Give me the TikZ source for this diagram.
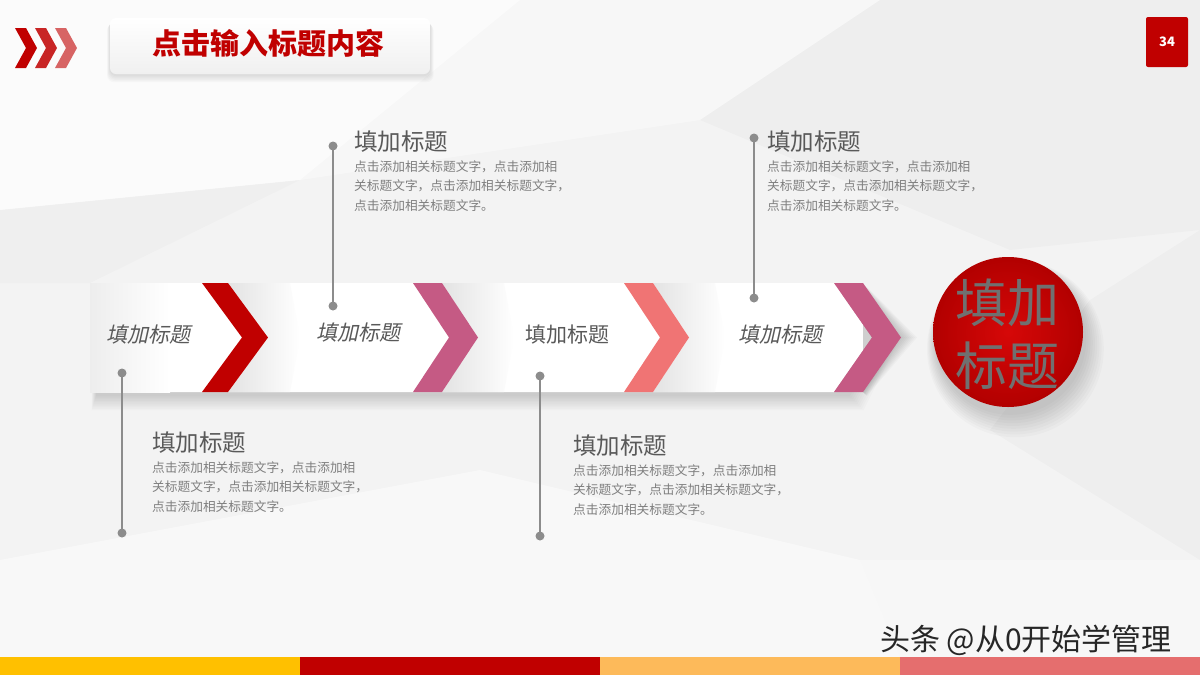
\documentclass[tikz,border=0pt]{standalone}
\usepackage{fontspec}
\setmainfont{Noto Sans CJK SC}
\newfontfamily\cjkit{Noto Sans CJK SC}[FakeSlant=0.22]
\definecolor{dred}{HTML}{C00000}
\definecolor{pinkc}{HTML}{C55A84}
\definecolor{salmon}{HTML}{F07474}
\definecolor{bandA}{HTML}{FFC000}
\definecolor{bandC}{HTML}{FDBA5A}
\definecolor{bandD}{HTML}{E56E6E}
\definecolor{txtgray}{HTML}{595959}
\definecolor{bodygray}{HTML}{7F7F7F}
\definecolor{linegray}{HTML}{8C8C8C}
\definecolor{ballgray}{HTML}{707070}
\definecolor{bg}{HTML}{F3F3F3}
\tikzset{
  dot/.style={circle,fill=linegray,inner sep=0pt,minimum size=9pt},
  conn/.style={linegray,line width=1.5pt},
  striplabel/.style={anchor=base,text=txtgray,inner sep=0pt,font=\fontsize{21}{21}\selectfont},
  blocktitle/.style={anchor=base west,text=txtgray,inner sep=0pt,font=\fontsize{23.5}{23.5}\selectfont},
  blockbody/.style={anchor=base west,text=bodygray,inner sep=0pt,align=left,font=\fontsize{12.7}{19.5}\selectfont},
}
\begin{document}
\begin{tikzpicture}[x=1pt,y=-1pt]
\useasboundingbox (0,0) rectangle (1200,675);
% background
\fill[bg] (0,0) rectangle (1200,675);
\fill[white,opacity=0.7] (0,0) -- (520,0) -- (300,180) -- (0,210) -- cycle;
\fill[white,opacity=0.4] (520,0) -- (880,0) -- (700,120) -- (300,180) -- cycle;
\fill[black,opacity=0.018] (880,0) -- (1200,0) -- (1200,230) -- (1010,250) -- (700,120) -- cycle;
\fill[white,opacity=0.45] (0,560) -- (480,470) -- (860,560) -- (900,657) -- (0,657) -- cycle;
\fill[black,opacity=0.02] (1090,300) -- (1200,230) -- (1200,560) -- (990,430) -- cycle;
\fill[white,opacity=0.4] (860,560) -- (1200,560) -- (1200,657) -- (900,657) -- cycle;
\fill[black,opacity=0.015] (0,210) -- (300,180) -- (90,283) -- (0,283) -- cycle;
% bottom bands
\fill[bandA] (0,657) rectangle (300,675);
\fill[dred] (300,657) rectangle (600,675);
\fill[bandC] (600,657) rectangle (900,675);
\fill[bandD] (900,657) rectangle (1200,675);
% top-left chevrons
\fill[dred] (15,28) -- (26,28) -- (37,48) -- (26,68) -- (15,68) -- (26,48) -- cycle;
\fill[dred,opacity=0.85] (35,28) -- (46,28) -- (57,48) -- (46,68) -- (35,68) -- (46,48) -- cycle;
\fill[dred,opacity=0.6] (55,28) -- (66,28) -- (77,48) -- (66,68) -- (55,68) -- (66,48) -- cycle;
% title box
\foreach \i in {1,...,6}{\fill[black,opacity=0.02,rounded corners=7pt] (110-\i*0.5,19+\i*0.8) rectangle (430+\i*0.6,75+\i*1.2);}
\shade[top color=white,bottom color=black!6,rounded corners=6pt] (110,18) rectangle (430,74);
\node[anchor=base,text=dred,inner sep=0pt,font=\fontsize{29}{29}\selectfont\bfseries] (title) at (268,54) {点击输入标题内容};
% page number
\node[fill=dred,minimum width=42pt,minimum height=50pt,rounded corners=2pt,inner sep=0pt,text=white,font=\fontsize{13}{13}\selectfont\bfseries] (page) at (1167,42) {34};
% strip shadow
\foreach \i in {0,...,9}{\fill[black,opacity=0.016] (96-\i*0.5,290+\i*0.4) -- (850+\i*0.5,290+\i*0.4) -- (885+\i*1.2,337+\i) -- (850+\i*1.5,396+\i*1.6) -- (96-\i*0.5,396+\i*1.6) -- cycle;}
% strip
\fill[white] (90,283) -- (834,283) -- (872,337.5) -- (834,392) -- (90,392) -- cycle;
\shade[left color=black!7,right color=white] (90,283) rectangle (170,392);
% chevron shadows on next segments
\shade[left color=black!11,right color=white] (228,283) -- (290,283) -- (300,337.5) -- (290,392) -- (228,392) -- (268,337.5) -- cycle;
\shade[left color=black!11,right color=white] (442,283) -- (504,283) -- (514,337.5) -- (504,392) -- (442,392) -- (478,337.5) -- cycle;
\shade[left color=black!11,right color=white] (653,283) -- (715,283) -- (725,337.5) -- (715,392) -- (653,392) -- (689,337.5) -- cycle;
\foreach \i in {1,...,8}{\fill[black,opacity=0.025] (863,287) -- (863+\i*0.5,287) -- (901+\i*2,337.5) -- (863+\i*0.5,392+\i*0.5) -- (863,392) -- cycle;}
% strip chevrons
\fill[dred] (202,283) -- (228,283) -- (268,337.5) -- (228,392) -- (202,392) -- (242,337.5) -- cycle;
\fill[pinkc] (413,283) -- (442,283) -- (478,337.5) -- (442,392) -- (413,392) -- (449,337.5) -- cycle;
\fill[salmon] (624,283) -- (653,283) -- (689,337.5) -- (653,392) -- (624,392) -- (660,337.5) -- cycle;
\fill[pinkc] (834,283) -- (863,283) -- (901,337.5) -- (863,392) -- (834,392) -- (872,337.5) -- cycle;
% strip labels
\node[striplabel,font=\cjkit\fontsize{21}{21}\selectfont] (s1) at (148,342) {填加标题};
\node[striplabel,font=\cjkit\fontsize{21}{21}\selectfont] (s2) at (358,340) {填加标题};
\node[striplabel] (s3) at (567,342) {填加标题};
\node[striplabel,font=\cjkit\fontsize{21}{21}\selectfont] (s4) at (780,342) {填加标题};
% circle
\foreach \i in {1,...,9}{\fill[black,opacity=0.018] (1010+\i*0.6,338+\i*1.2) circle (74+\i*1.6);}
\node[circle,minimum size=150pt,inner sep=0pt,shade,inner color={rgb,255:red,214;green,8;blue,8},outer color={rgb,255:red,178;green,0;blue,0}] (ball) at (1008,332) {};
\node[anchor=base,text=ballgray,inner sep=0pt,align=center,font=\fontsize{52}{63}\selectfont] (balltext) at (1007,385) {填加\\标题};
% connectors
\node[dot] (d1a) at (122,373) {};
\node[dot] (d1b) at (122,533) {};
\draw[conn] (d1a.center) -- (d1b.center);
\node[dot] (d2a) at (333,146) {};
\node[dot] (d2b) at (333,306) {};
\draw[conn] (d2a.center) -- (d2b.center);
\node[dot] (d3a) at (540,376) {};
\node[dot] (d3b) at (540,536) {};
\draw[conn] (d3a.center) -- (d3b.center);
\node[dot] (d4a) at (754,138) {};
\node[dot] (d4b) at (754,298) {};
\draw[conn] (d4a.center) -- (d4b.center);
% text blocks
\node[blocktitle] (t1) at (354,150) {填加标题};
\node[blockbody] (b1) at (354,210) {点击添加相关标题文字，点击添加相\\关标题文字，点击添加相关标题文字，\\点击添加相关标题文字。};
\node[blocktitle] (t2) at (767,150) {填加标题};
\node[blockbody] (b2) at (767,210) {点击添加相关标题文字，点击添加相\\关标题文字，点击添加相关标题文字，\\点击添加相关标题文字。};
\node[blocktitle] (t3) at (152,451) {填加标题};
\node[blockbody] (b3) at (152,511) {点击添加相关标题文字，点击添加相\\关标题文字，点击添加相关标题文字，\\点击添加相关标题文字。};
\node[blocktitle] (t4) at (573,454) {填加标题};
\node[blockbody] (b4) at (573,514) {点击添加相关标题文字，点击添加相\\关标题文字，点击添加相关标题文字，\\点击添加相关标题文字。};
% watermark
\node[anchor=base west,inner sep=0pt,text=black!85,font=\fontsize{30}{30}\selectfont] (wm) at (880,650) {头条 @从0开始学管理};
\end{tikzpicture}
\end{document}
